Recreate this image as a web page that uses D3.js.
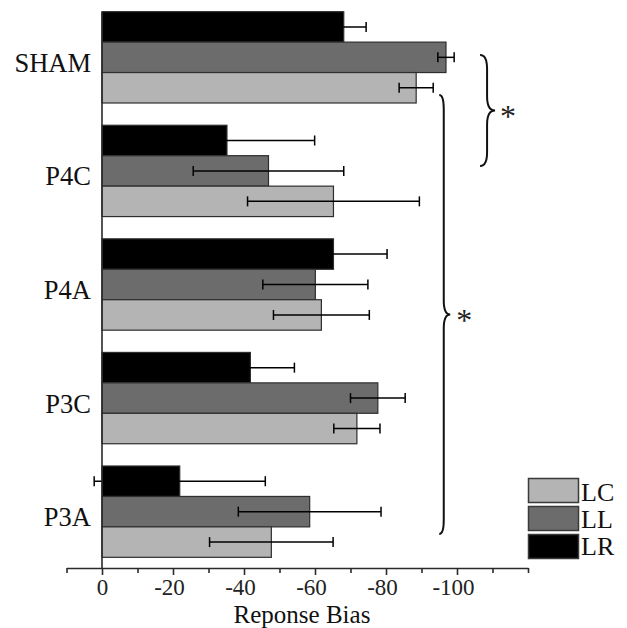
<!DOCTYPE html>
<html>
<head>
<meta charset="utf-8">
<script src="https://cdn.jsdelivr.net/npm/d3@7"></script>
<style>
  body { margin: 0; background: #fff; }
  svg { display: block; }
</style>
</head>
<body>
<div id="chart"></div>
<script>
const groups = ["SHAM", "P4C", "P4A", "P3C", "P3A"];
const seriesNames = ["LR", "LL", "LC"]; // top to bottom inside a group
const legendNames = ["LC", "LL", "LR"];

const lrMean = [-68.1, -35.2, -65.2, -41.8, -21.9];
const lrErr = [6.3, 24.7, 15.1, 12.4, 24.1];
const llMean = [-96.9, -46.9, -60.1, -77.7, -58.5];
const llErr = [2.3, 21.2, 14.8, 7.7, 20.1];
const lcMean = [-88.5, -65.2, -61.8, -71.8, -47.7];
const lcErr = [4.8, 24.2, 13.5, 6.5, 17.4];

const tickValues = [10, 0, -10, -20, -30, -40, -50, -60, -70, -80, -90, -100, -110, -120];
const labelledTicks = [0, -20, -40, -60, -80, -100];

const FONT = "'Liberation Serif', 'Times New Roman', 'DejaVu Serif', serif";
const COLORS = { LC: "#b4b4b4", LL: "#6c6c6c", LR: "#000000" };
const means = { LR: lrMean, LL: llMean, LC: lcMean };
const errs = { LR: lrErr, LL: llErr, LC: lcErr };

const W = 627, H = 628;
const axisY = 568;

const svg = d3.select("#chart").append("svg")
  .attr("width", W)
  .attr("height", H)
  .attr("font-family", FONT);

const x = d3.scaleLinear().domain([10, -120]).range([66.5, 528]);

const y = d3.scaleBand()
  .domain(groups)
  .range([1, axisY])
  .paddingInner(0.196)
  .paddingOuter(0.094);

const ySub = d3.scaleBand()
  .domain(seriesNames)
  .range([0, y.bandwidth()]);

// bars
const rows = [];
groups.forEach((g, gi) => {
  seriesNames.forEach(s => {
    rows.push({ group: g, series: s, value: means[s][gi], err: errs[s][gi] });
  });
});

svg.append("g")
  .selectAll("rect")
  .data(rows)
  .enter()
  .append("rect")
  .attr("x", x(0))
  .attr("y", d => y(d.group) + ySub(d.series))
  .attr("width", d => x(d.value) - x(0))
  .attr("height", ySub.bandwidth())
  .attr("fill", d => COLORS[d.series])
  .attr("stroke", "#2e2e2e")
  .attr("stroke-width", 1.2);

// error bars (black, so the part inside the LR bars disappears as in the original)
const capH = 10;
const eb = svg.append("g")
  .attr("stroke", "#000")
  .attr("stroke-width", 1.5)
  .attr("fill", "none");

rows.forEach(d => {
  const cy = y(d.group) + ySub(d.series) + ySub.bandwidth() / 2;
  const x1 = x(d.value + d.err), x2 = x(d.value - d.err);
  eb.append("line").attr("x1", x1).attr("x2", x2).attr("y1", cy).attr("y2", cy);
  eb.append("line").attr("x1", x1).attr("x2", x1).attr("y1", cy - capH / 2).attr("y2", cy + capH / 2);
  eb.append("line").attr("x1", x2).attr("x2", x2).attr("y1", cy - capH / 2).attr("y2", cy + capH / 2);
});

// y axis line
svg.append("line")
  .attr("x1", x(0)).attr("x2", x(0))
  .attr("y1", y(groups[0])).attr("y2", axisY)
  .attr("stroke", "#2a2a2a")
  .attr("stroke-width", 1.6);

// group labels
svg.append("g")
  .selectAll("text")
  .data(groups)
  .enter()
  .append("text")
  .attr("x", 91)
  .attr("y", d => y(d) + y.bandwidth() / 2 + 14.5)
  .attr("text-anchor", "end")
  .attr("font-family", FONT)
  .attr("font-size", "26.5px")
  .attr("fill", "#111")
  .text(d => d);

// x axis
const xAxis = svg.append("g")
  .attr("transform", "translate(0," + axisY + ")")
  .call(d3.axisBottom(x)
    .tickValues(tickValues)
    .tickSize(5)
    .tickPadding(6)
    .tickSizeOuter(0)
    .tickFormat(d => labelledTicks.includes(d) ? String(d) : ""));

xAxis.attr("font-family", FONT);
xAxis.select(".domain").attr("stroke", "#2a2a2a").attr("stroke-width", 1.6);
xAxis.selectAll(".tick line")
  .attr("stroke", "#2a2a2a")
  .attr("stroke-width", 1.6)
  .attr("y2", d => labelledTicks.includes(d) ? 7 : 5);
xAxis.selectAll(".tick text")
  .attr("font-family", FONT)
  .attr("font-size", "23px")
  .attr("fill", "#222")
  .attr("dx", d => d < 0 ? -4 : 0);

svg.append("text")
  .attr("x", 302)
  .attr("y", 623)
  .attr("text-anchor", "middle")
  .attr("font-family", FONT)
  .attr("font-size", "25px")
  .attr("fill", "#111")
  .text("Reponse Bias");

// significance braces
function brace(x0, y0, y1, w, t) {
  const ym = (y0 + y1) / 2, r = Math.min(14, (y1 - y0) / 6);
  const xv = x0 + w;
  return "M" + x0 + "," + y0 +
    " Q" + xv + "," + y0 + " " + xv + "," + (y0 + r) +
    " L" + xv + "," + (ym - r) +
    " Q" + xv + "," + ym + " " + (xv + t) + "," + ym +
    " Q" + xv + "," + ym + " " + xv + "," + (ym + r) +
    " L" + xv + "," + (y1 - r) +
    " Q" + xv + "," + y1 + " " + x0 + "," + y1;
}

const braces = [
  { x0: x(-106.5), y0: 55, y1: 166, w: 7, t: 8, star: 9 },
  { x0: x(-95), y0: 95, y1: 534, w: 4.5, t: 6.5, star: 10 }
];

braces.forEach(b => {
  svg.append("path")
    .attr("d", brace(b.x0, b.y0, b.y1, b.w, b.t))
    .attr("fill", "none")
    .attr("stroke", "#111")
    .attr("stroke-width", 2);
  svg.append("text")
    .attr("x", b.x0 + b.w + b.t + b.star + 4)
    .attr("y", (b.y0 + b.y1) / 2 + 16)
    .attr("text-anchor", "middle")
    .attr("font-family", FONT)
    .attr("font-size", "32px")
    .attr("fill", "#222")
    .text("*");
});

// legend
const legend = svg.append("g").attr("transform", "translate(528.5,478.5)");
legendNames.forEach((s, i) => {
  legend.append("rect")
    .attr("x", 0)
    .attr("y", i * 28)
    .attr("width", 50)
    .attr("height", 24)
    .attr("fill", COLORS[s])
    .attr("stroke", "#3a3a3a")
    .attr("stroke-width", 1.5);
  legend.append("text")
    .attr("x", 52.5)
    .attr("y", i * 27 + 22)
    .attr("font-family", FONT)
    .attr("font-size", "26px")
    .attr("fill", "#111")
    .text(s);
});
</script>
</body>
</html>
